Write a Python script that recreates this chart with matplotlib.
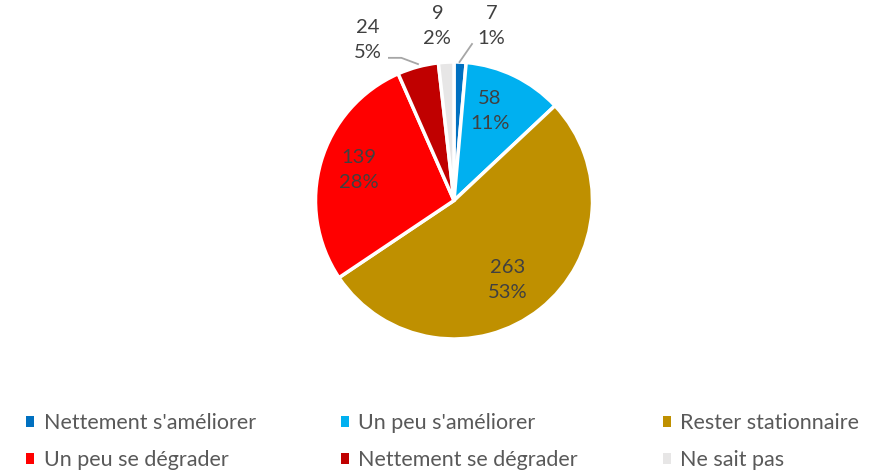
import numpy as np
import matplotlib
matplotlib.use("Agg")
import matplotlib.pyplot as plt

plt.rcParams['font.family'] = ['Lato', 'DejaVu Sans']

categories = ["Nettement s'améliorer", "Un peu s'améliorer", "Rester stationnaire",
              "Un peu se dégrader", "Nettement se dégrader", "Ne sait pas"]
counts = [7, 58, 263, 139, 24, 9]
percents = [1, 11, 53, 28, 5, 2]
colors = ['#0070C0', '#00B0F0', '#BF9000', '#FF0000', '#C00000', '#E7E6E6']

# label centres in pie units (radius = 1)
label_pos = [(0.27, 1.26), (0.26, 0.646), (0.39, -0.574),
             (-0.69, 0.22), (-0.62, 1.16), (-0.12, 1.26)]

fig = plt.figure(figsize=(8.75, 4.72), dpi=100)
cx, cy, r = 454, 200.5, 138.5
ax = fig.add_axes([(cx - r) / 875, (472 - cy - r) / 472, 2 * r / 875, 2 * r / 472])

wedges, _ = ax.pie(counts, colors=colors, startangle=90, counterclock=False,
                   wedgeprops=dict(edgecolor='white', linewidth=2.5))
ax.set_xlim(-1, 1)
ax.set_ylim(-1, 1)
ax.set_aspect('equal')
ax.axis('off')

for i, w in enumerate(wedges):
    x, y = label_pos[i]
    ax.text(x, y, f"{counts[i]}\n{percents[i]}%", ha='center', va='center',
            fontsize=14.5, color='#404040', linespacing=1.62, clip_on=False)

# leader lines for the small outside slices
for i, pts in [(0, [(0.13, 1.13), (0.04, 1.0)]),
               (4, [(-0.47, 1.03), (-0.38, 1.03), (-0.26, 0.985)])]:
    xs, ys = zip(*pts)
    ax.plot(xs, ys, color='#A6A6A6', lw=1.3, clip_on=False)

order = [0, 3, 1, 4, 2, 5]
leg = fig.legend([wedges[k] for k in order], [categories[k] for k in order],
                 ncol=3, loc='upper left', bbox_to_anchor=(0.008, 0.166),
                 frameon=False, fontsize=15.5, handlelength=0.37, handleheight=0.37,
                 handletextpad=0.45, columnspacing=3.93, labelspacing=0.8)
for t in leg.get_texts():
    t.set_color('#595959')
for h in leg.legend_handles:
    h.set_edgecolor('none')

fig.savefig('out.png', dpi=100)
